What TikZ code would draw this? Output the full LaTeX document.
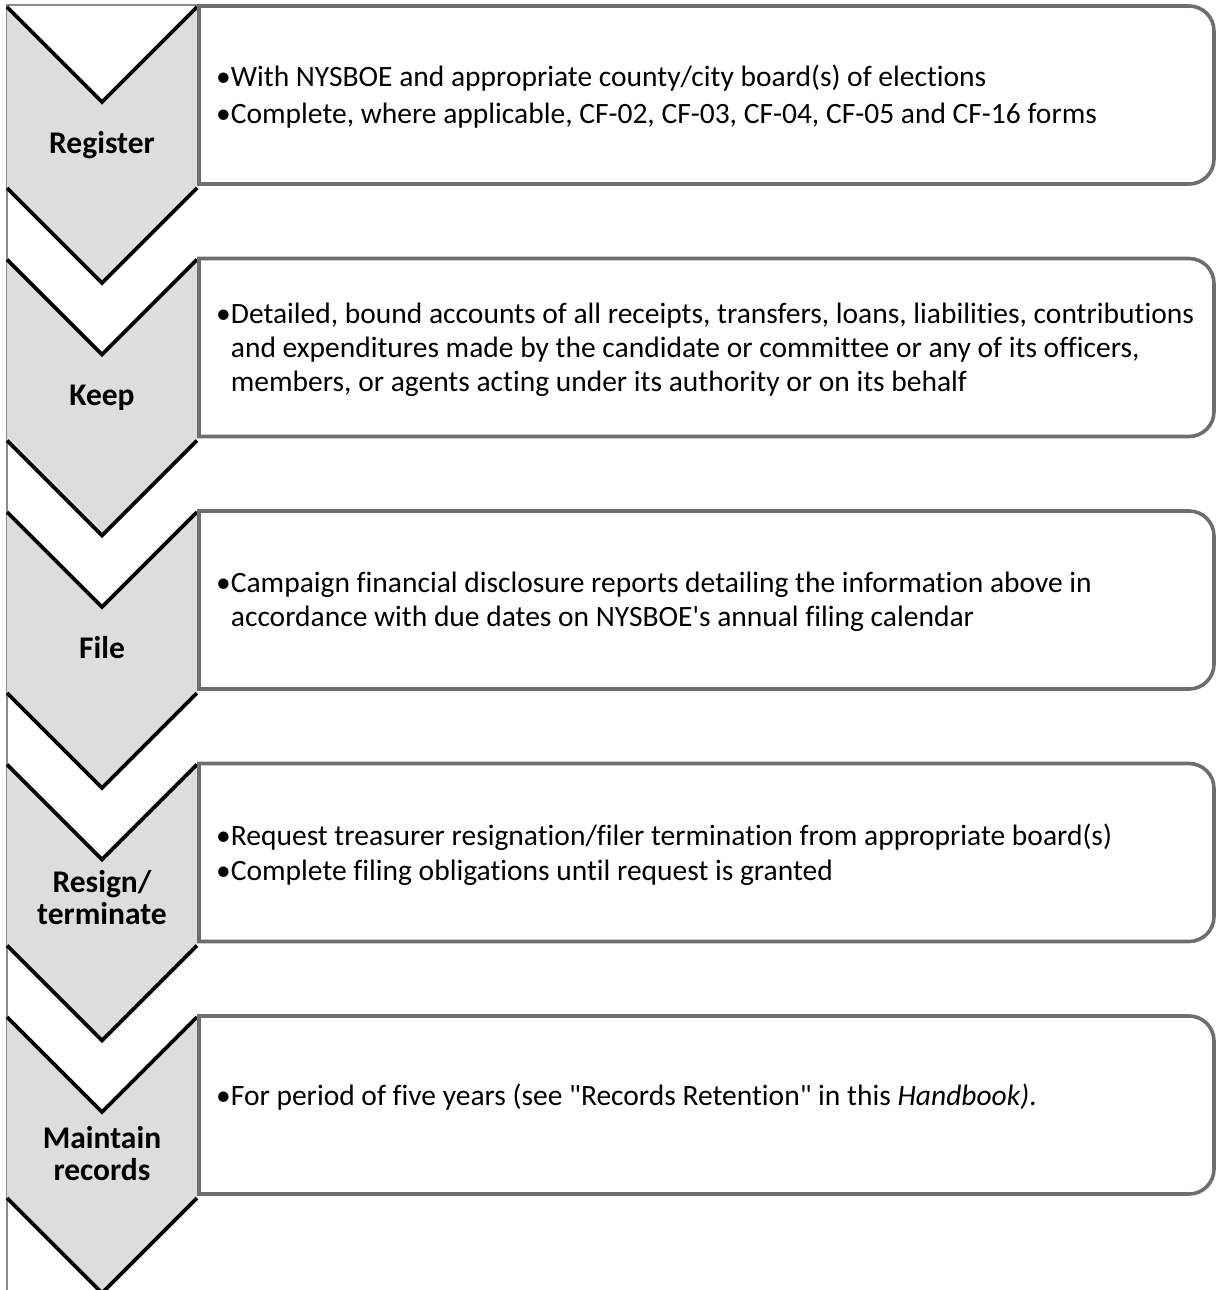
\documentclass[tikz,border=0pt]{standalone}
\usepackage{fontspec}
\setmainfont{Carlito}[Ligatures={TeXOff,CommonOff}]
\definecolor{chevgray}{HTML}{DDDDDD}
\definecolor{boxgray}{HTML}{6E6E6E}
\definecolor{framegray}{HTML}{8A8A8A}
\begin{document}
\begin{tikzpicture}[x=1pt,y=-1pt,
  chevfill/.style={fill=chevgray},
  vline/.style={draw=black,line width=3.6pt,line join=miter,line cap=butt},
  boxline/.style={draw=boxgray,line width=3.6pt,fill=white},
  frameline/.style={draw=framegray,line width=1.2pt},
  steplabel/.style={font=\fontsize{31.5}{32}\selectfont\bfseries,align=center,inner sep=0pt},
  bodytext/.style={font=\fontsize{29.5}{34}\selectfont,align=left,anchor=west,inner sep=0pt}]
\useasboundingbox (0,0) rectangle (1217,1290);
\begin{scope}
\clip (0,0) rectangle (1217,1290);
\fill[white] (0,0) rectangle (1217,1290);
\draw[frameline] (7,1290) -- (7,5) -- (200,5);
\foreach \k in {0,...,4}{
  \pgfmathsetmacro{\d}{252.5*\k}
  \fill[chevfill] (7,7+\d) -- (102,102+\d) -- (197,7+\d) -- (197,188+\d) -- (102,283+\d) -- (7,188+\d) -- cycle;
  \draw[vline] (7,7+\d) -- (102,102+\d) -- (197,7+\d);
  \draw[vline] (7,188+\d) -- (102,283+\d) -- (197,188+\d);
  \draw[boxline] (199,184+\d) -- (199,6+\d) -- (1189,6+\d) arc[start angle=-90,end angle=0,radius=25] -- (1214,159+\d) arc[start angle=0,end angle=90,radius=25] -- cycle;
}
\end{scope}
\node[steplabel] (l1) at (102,145) {Register};
\node[steplabel] (l2) at (102,398) {Keep};
\node[steplabel] (l3) at (102,648) {File};
\node[steplabel] (l4) at (102,898) {Resign/\\terminate};
\node[steplabel] (l5) at (102,1154) {Maintain\\records};
\node[bodytext] (t1) at (216,97) {•With NYSBOE and appropriate county/city board(s) of elections\\[3pt]•Complete, where applicable, CF-02, CF-03, CF-04, CF-05 and CF-16 forms};
\node[bodytext] (t2) at (216,350) {•Detailed, bound accounts of all receipts, transfers, loans, liabilities, contributions\\\phantom{•}and expenditures made by the candidate or committee or any of its officers,\\\phantom{•}members, or agents acting under its authority or on its behalf};
\node[bodytext] (t3) at (216,602) {•Campaign financial disclosure reports detailing the information above in\\\phantom{•}accordance with due dates on NYSBOE's annual filing calendar};
\node[bodytext] (t4) at (216,855) {•Request treasurer resignation/filer termination from appropriate board(s)\\[1pt]•Complete filing obligations until request is granted};
\node[bodytext] (t5) at (216,1097) {•For period of five years (see "Records Retention" in this \textit{Handbook)}.};
\end{tikzpicture}
\end{document}
